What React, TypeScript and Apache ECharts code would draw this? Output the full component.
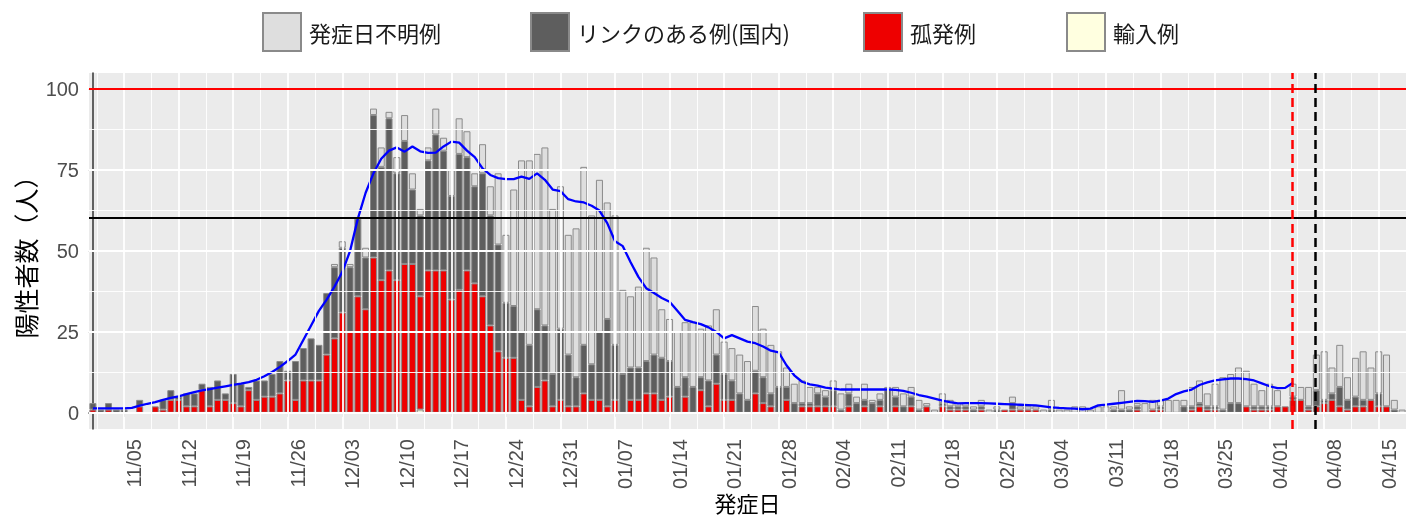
import React, { useEffect, useRef } from 'react';
import * as echarts from 'echarts';

const START_DATE = '2020-11-01';
const DAY_COUNT = 169;
const TICK_LABELS = ['11/05','11/12','11/19','11/26','12/03','12/10','12/17','12/24','12/31','01/07','01/14','01/21','01/28','02/04','02/11','02/18','02/25','03/04','03/11','03/18','03/25','04/01','04/08','04/15'];
const Y_TICKS = [0, 25, 50, 75, 100];
const Y_MINOR = [12.5, 37.5, 62.5, 87.5];

const SPORADIC = [
  1,0,1,0,0,0,2,0,2,1,
  4,4,2,2,7,2,4,4,3,2,
  7,4,5,5,6,10,4,10,10,10,
  18,23,31,25,36,32,48,41,44,41,
  46,46,35,44,44,44,35,38,44,40,
  36,27,19,17,17,4,2,8,10,2,
  4,2,2,6,4,4,2,4,0,4,
  4,6,6,4,5,0,5,0,7,2,
  9,4,4,0,0,6,3,2,0,4,
  0,2,2,2,2,2,0,2,0,2,
  0,2,0,2,0,2,0,2,0,2,
  1,1,1,0,1,0,0,1,1,1,
  1,1,0,0,0,0,0,0,0,0,
  0,0,0,0,1,0,1,1,0,0,
  0,1,2,1,1,0,0,0,2,1,
  1,1,2,2,4,4,1,2,3,4,
  2,1,2,2,4,2,2,0,0,
];
const LINKED = [
  2,1,2,1,1,0,2,0,0,3,
  3,1,4,4,2,6,6,2,9,7,
  1,6,5,7,10,3,12,10,13,11,
  19,22,20,20,24,16,44,35,47,33,
  38,23,25,34,42,37,32,42,35,30,
  38,34,33,17,16,21,19,24,17,10,
  22,16,9,15,11,21,27,17,12,10,
  10,10,12,13,11,8,6,8,4,8,
  9,8,6,6,4,7,8,4,8,4,
  3,1,1,4,3,5,1,4,3,2,
  3,2,7,3,2,3,1,0,0,1,
  1,1,1,1,1,0,1,0,2,0,
  0,0,0,1,0,0,0,0,0,0,
  0,1,1,1,1,0,0,1,0,0,
  2,1,1,1,1,1,3,3,0,1,
  1,1,0,0,1,0,1,5,1,2,
  6,3,3,2,0,4,0,1,0,
];
const UNKNOWN = [
  0,0,0,0,0,0,0,0,0,0,
  0,0,0,0,0,0,0,0,0,0,
  0,0,0,0,0,0,0,0,0,0,
  0,1,2,1,0,3,2,6,2,5,
  8,5,2,4,8,4,8,11,8,4,
  9,9,22,21,36,53,57,48,55,51,
  44,37,46,55,46,47,36,40,26,22,
  25,35,30,15,13,17,17,20,15,17,
  14,10,10,12,12,20,15,15,11,6,
  6,7,5,2,2,3,5,3,2,5,
  1,2,1,3,4,3,3,1,1,3,
  2,1,1,1,2,1,1,0,2,1,
  1,1,1,3,1,1,2,2,1,2,
  2,1,6,1,1,3,3,2,4,4,
  2,6,7,4,7,10,9,11,11,7,
  5,7,5,0,4,4,6,11,15,8,
  13,7,12,15,10,13,16,3,1,
];
const IMPORTED_DAYS = ['12/13'];
const IMPORTED_COUNTS = [1];

const MOVING_AVG = [
  1.4,1.4,1.4,1.4,1.4,1.5,2.2,2.8,3.3,4.0,
  4.6,5.1,5.8,6.4,6.9,7.3,7.8,8.2,8.6,9.0,
  9.5,10.2,11.3,12.6,14.2,16.0,18.0,22.5,27,31.5,
  35,39,43.5,50,60,68,74,78.5,81,82,
  80.7,82.3,80.8,80.3,80.4,82.3,83.8,83.5,81,79,
  75.5,73.5,72.5,72.2,72.2,73,72.3,74,72,69,
  68.5,66,65.3,65,64,62.5,58.6,53,51.5,46.5,
  42,38.5,37,35.5,34.3,31.5,28.7,28,27.4,26.4,
  25,23,24,23,22,21.5,20.5,19.2,18.7,14.7,
  11.6,9.6,8.8,8.4,7.8,7.5,7.2,7.2,7.2,7.2,
  7.2,7.2,7.2,7.1,6.8,6.2,5.5,5.0,4.4,3.8,
  3.3,2.9,3.0,3.0,3.0,2.9,2.8,2.7,2.6,2.5,
  2.4,2.3,2.0,1.7,1.5,1.4,1.3,1.1,1.3,2.3,
  2.5,2.8,3.1,3.4,3.7,3.6,3.4,3.8,4.4,5.8,
  6.6,7.2,8.6,9.4,10.0,10.3,10.6,10.6,10.4,10.0,
  9.1,8.2,7.6,7.7,9.3,
];

const UPPER_LINE = 100;
const STAGE_LINE = 60.2;
const RED_VLINE_DATE = '04/04';
const BLACK_VLINE_DATE = '04/07';

const NAMES = ['発症日不明例', 'リンクのある例(国内)', '孤発例', '輸入例'];
const COLORS = ['#DEDEDE', '#5E5E5E', '#EE0000', '#FFFFE0'];
const LEGEND_LEFT = [257, 525, 858, 1061];

function buildDates(): string[] {
  const [y, m, d] = START_DATE.split('-').map(Number);
  const out: string[] = [];
  for (let i = 0; i < DAY_COUNT; i++) {
    const dt = new Date(Date.UTC(y, m - 1, d + i));
    const mm = String(dt.getUTCMonth() + 1).padStart(2, '0');
    const dd = String(dt.getUTCDate()).padStart(2, '0');
    out.push(`${mm}/${dd}`);
  }
  return out;
}

const JP = '"Noto Sans CJK JP", "Noto Sans", sans-serif';
const LAT = '"Liberation Sans", Arial, sans-serif';

export default function App() {
  const ref = useRef<HTMLDivElement>(null);
  useEffect(() => {
    if (!ref.current) return;
    const chart = echarts.init(ref.current, undefined, { renderer: 'svg' });
    const dates = buildDates();
    const imported = dates.map((d) => {
      const k = IMPORTED_DAYS.indexOf(d);
      return k >= 0 ? IMPORTED_COUNTS[k] : 0;
    });
    const clean = (arr: number[]) => arr.map((v) => (v ? v : '-'));
    const tickIdx = TICK_LABELS.map((t) => dates.indexOf(t));
    const isTick = (i: number) => TICK_LABELS.includes(dates[i]);

    const gridLines: any[] = [];
    Y_TICKS.forEach((v) => gridLines.push({ yAxis: v, lineStyle: { color: '#FFFFFF', width: 1.8, type: 'solid' } }));
    Y_MINOR.forEach((v) => gridLines.push({ yAxis: v, lineStyle: { color: '#FFFFFF', width: 0.9, type: 'solid' } }));
    tickIdx.forEach((ix) => {
      gridLines.push({ xAxis: ix, lineStyle: { color: '#FFFFFF', width: 1.8, type: 'solid' } });
      gridLines.push({ xAxis: ix - 3.5, lineStyle: { color: '#FFFFFF', width: 0.9, type: 'solid' } });
    });

    const barBase = {
      type: 'bar',
      stack: 'total',
      xAxisIndex: 0,
      yAxisIndex: 0,
      barWidth: '90%',
      z: 2,
    };
    const border = { borderColor: '#8A8A8A', borderWidth: 1 };

    chart.setOption({
      animation: false,
      legend: NAMES.map((n, k) => ({
        data: [n],
        top: 7,
        left: LEGEND_LEFT[k],
        itemWidth: 38,
        itemHeight: 38,
        icon: 'rect',
        selectedMode: false,
        textStyle: { fontFamily: JP, fontSize: 22, color: '#1A1A1A', padding: [0, 0, 0, 3] },
      })),
      grid: {
        left: 89,
        top: 73,
        right: 0,
        height: 356,
        show: true,
        backgroundColor: '#EBEBEB',
        borderWidth: 0,
        containLabel: false,
        outerBoundsMode: 'none',
      },
      xAxis: [
        {
          type: 'category',
          data: dates,
          boundaryGap: true,
          name: '発症日',
          nameLocation: 'middle',
          nameGap: 62,
          nameMoveOverlap: false,
          nameTextStyle: { fontFamily: JP, fontSize: 22, color: '#000' },
          axisLine: { show: true, lineStyle: { color: '#333', width: 1.5 } },
          axisTick: {
            show: true,
            alignWithLabel: true,
            interval: (i: number) => isTick(i),
            length: 4,
            lineStyle: { color: '#333', width: 1 },
          },
          axisLabel: {
            interval: (i: number) => isTick(i),
            rotate: 90,
            margin: 10,
            verticalAlign: 'top',
            fontFamily: LAT,
            fontSize: 20,
            color: '#4D4D4D',
          },
          splitLine: { show: false },
        },
        {
          type: 'value',
          min: -0.5,
          max: DAY_COUNT - 0.5,
          show: false,
          splitLine: { show: false },
        },
      ],
      yAxis: {
        type: 'value',
        min: -5,
        max: 105,
        name: '陽性者数（人）',
        nameLocation: 'middle',
        nameRotate: 90,
        nameGap: 52,
        nameMoveOverlap: false,
        nameTextStyle: { fontFamily: JP, fontSize: 25, color: '#000' },
        axisLine: { show: true, lineStyle: { color: '#333', width: 1.5 } },
        axisTick: { show: true, customValues: Y_TICKS, length: 4, lineStyle: { color: '#333', width: 1 } },
        axisLabel: { customValues: Y_TICKS, fontFamily: LAT, fontSize: 20, color: '#4D4D4D', margin: 10 },
        splitLine: { show: false },
        minorSplitLine: { show: false },
      },
      series: [
        {
          type: 'line',
          name: 'grid',
          xAxisIndex: 1,
          yAxisIndex: 0,
          data: [[-0.5, -5]],
          symbol: 'none',
          lineStyle: { width: 0 },
          silent: true,
          z: 1,
          markLine: { silent: true, symbol: ['none', 'none'], label: { show: false }, data: gridLines, animation: false },
        },
        { ...barBase, name: NAMES[3], data: clean(imported), itemStyle: { color: COLORS[3], ...border } },
        { ...barBase, name: NAMES[2], data: clean(SPORADIC), itemStyle: { color: COLORS[2], ...border } },
        { ...barBase, name: NAMES[1], data: clean(LINKED), itemStyle: { color: COLORS[1], ...border } },
        { ...barBase, name: NAMES[0], data: clean(UNKNOWN), itemStyle: { color: COLORS[0], ...border } },
        {
          type: 'line',
          name: 'ma',
          xAxisIndex: 0,
          yAxisIndex: 0,
          data: MOVING_AVG,
          symbol: 'none',
          showSymbol: false,
          lineStyle: { color: '#0000FF', width: 2.3 },
          z: 4,
        },
        {
          type: 'line',
          name: 'refs',
          xAxisIndex: 1,
          yAxisIndex: 0,
          data: [[-0.5, -5]],
          symbol: 'none',
          lineStyle: { width: 0 },
          silent: true,
          z: 5,
          markLine: {
            silent: true,
            symbol: ['none', 'none'],
            label: { show: false },
            animation: false,
            data: [
              { yAxis: UPPER_LINE, lineStyle: { color: '#FF0000', width: 2, type: 'solid' } },
              { yAxis: STAGE_LINE, lineStyle: { color: '#000000', width: 2, type: 'solid' } },
              { xAxis: dates.indexOf(RED_VLINE_DATE) - 0.1, lineStyle: { color: '#FF0000', width: 2.5, type: [9, 5] } },
              { xAxis: dates.indexOf(BLACK_VLINE_DATE) - 0.2, lineStyle: { color: '#000000', width: 2.5, type: [9, 5] } },
            ],
          },
        },
      ],
    });
    return () => chart.dispose();
  }, []);
  return <div ref={ref} style={{ position: 'fixed', left: 0, top: 0, width: 1406, height: 522 }} />;
}
